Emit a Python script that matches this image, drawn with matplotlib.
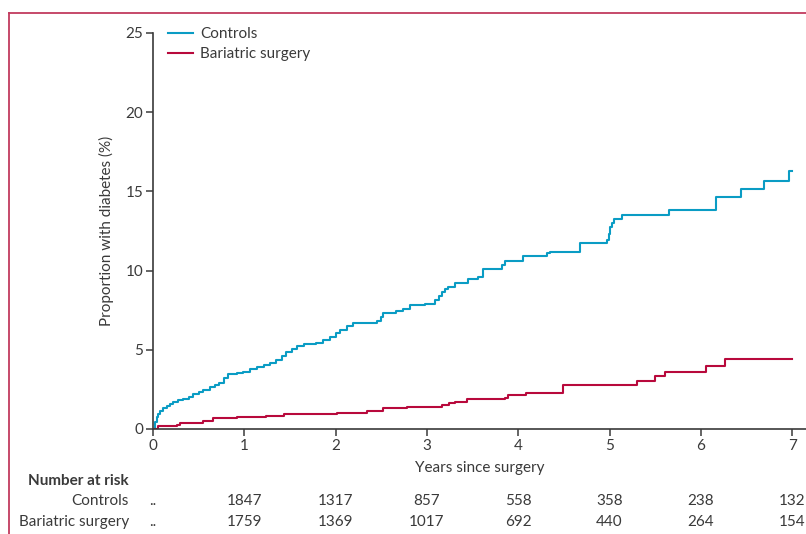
import matplotlib
matplotlib.use("Agg")
from matplotlib import pyplot as plt
from matplotlib.lines import Line2D

plt.rcParams['font.family'] = ['Lato', 'DejaVu Sans']

# cumulative incidence (years, %)
ctrl_t = [0, 0.02, 0.04, 0.06, 0.08, 0.11, 0.15, 0.19, 0.22, 0.27, 0.33, 0.39, 0.44,
          0.50, 0.55, 0.62, 0.68, 0.72, 0.78, 0.82, 0.92, 0.99, 1.06, 1.14, 1.22,
          1.28, 1.35, 1.41, 1.46, 1.52, 1.58, 1.65, 1.79, 1.86, 1.94, 2.00, 2.05,
          2.12, 2.19, 2.45, 2.50, 2.52, 2.66, 2.74, 2.81, 2.98, 3.09, 3.13, 3.16,
          3.20, 3.23, 3.31, 3.45, 3.56, 3.61, 3.82, 3.86, 4.05, 4.31, 4.35, 4.68,
          4.97, 4.99, 5.01, 5.03, 5.05, 5.14, 5.65, 6.17, 6.44, 6.69, 6.97, 7.0]
ctrl_p = [0, 0.45, 0.75, 0.95, 1.12, 1.3, 1.48, 1.6, 1.7, 1.8, 1.92, 2.05, 2.18,
          2.32, 2.45, 2.62, 2.78, 2.92, 3.2, 3.45, 3.55, 3.62, 3.78, 3.92, 4.02,
          4.14, 4.35, 4.6, 4.85, 5.05, 5.25, 5.36, 5.45, 5.62, 5.82, 6.05, 6.28,
          6.5, 6.68, 6.84, 7.1, 7.34, 7.45, 7.55, 7.82, 7.9, 8.14, 8.4, 8.68,
          8.85, 8.98, 9.24, 9.44, 9.6, 10.12, 10.38, 10.6, 10.92, 11.09, 11.2, 11.72,
          11.93, 12.3, 12.75, 13.0, 13.26, 13.5, 13.83, 14.67, 15.13, 15.68, 16.29, 16.29]

bari_t = [0, 0.06, 0.26, 0.30, 0.55, 0.66, 0.92, 1.24, 1.43, 2.01, 2.34, 2.52,
          2.78, 3.16, 3.24, 3.31, 3.44, 3.86, 3.89, 4.09, 4.49, 5.30, 5.50, 5.61,
          6.06, 6.26, 7.0]
bari_p = [0, 0.19, 0.25, 0.4, 0.5, 0.67, 0.78, 0.84, 0.93, 1.03, 1.16, 1.35,
          1.41, 1.52, 1.62, 1.72, 1.87, 1.98, 2.12, 2.25, 2.78, 3.03, 3.35, 3.62,
          4.0, 4.4, 4.4]

risk_years = [0, 1, 2, 3, 4, 5, 6, 7]
risk_ctrl = ['..', '1847', '1317', '857', '558', '358', '238', '132']
risk_bari = ['..', '1759', '1369', '1017', '692', '440', '264', '154']

blue = '#0a9cc4'
red = '#b8093c'
grey = '#3a3a3a'

fig = plt.figure(figsize=(8.06, 5.34), dpi=100)
ax = fig.add_axes([153/806, 105/534, 653/806, 396/534])

ax.step(ctrl_t, ctrl_p, where='post', color=blue, lw=1.5, label='Controls')
ax.step(bari_t, bari_p, where='post', color=red, lw=1.5, label='Bariatric surgery')

ax.set_xlim(0, 653/91.3)
ax.set_ylim(0, 25)
ax.set_xticks(range(8))
ax.set_yticks([0, 5, 10, 15, 20, 25])
for s in ['top', 'right']:
    ax.spines[s].set_visible(False)
for s in ['left', 'bottom']:
    ax.spines[s].set_linewidth(1.2)
    ax.spines[s].set_color(grey)
ax.spines['left'].set_bounds(0, 25)
ax.tick_params(direction='out', length=5, width=1.1, color=grey,
               labelsize=11, labelcolor=grey, pad=2)
ax.set_xlabel('Years since surgery', fontsize=11, color=grey, labelpad=6)
ax.set_ylabel('Proportion with diabetes (%)', fontsize=11, color=grey, labelpad=8)

leg = ax.legend(loc='upper left', bbox_to_anchor=(0.014, 1.03), frameon=False,
                fontsize=11, handlelength=1.65, handletextpad=0.45,
                labelspacing=0.4, borderaxespad=0)
for t in leg.get_texts():
    t.set_color(grey)

# number at risk table, x in data units, y in figure pixels
trans = matplotlib.transforms.blended_transform_factory(ax.transData, fig.transFigure)
fig.text(129/806, 1 - 481/534, 'Number at risk', fontsize=11, fontweight='bold',
         color=grey, ha='right', va='center')
fig.text(129/806, 1 - 501/534, 'Controls', fontsize=11, color=grey, ha='right', va='center')
fig.text(129/806, 1 - 522/534, 'Bariatric surgery', fontsize=11, color=grey,
         ha='right', va='center')
for yr, c, b in zip(risk_years, risk_ctrl, risk_bari):
    ax.text(yr, 1 - 501/534, c, transform=trans, fontsize=11, color=grey,
            ha='center', va='center', clip_on=False)
    ax.text(yr, 1 - 522/534, b, transform=trans, fontsize=11, color=grey,
            ha='center', va='center', clip_on=False)

# frame line on top and left
frame = '#c23a5e'
fig.add_artist(Line2D([9/806, 1.0], [1 - 13/534, 1 - 13/534], transform=fig.transFigure,
                      color=frame, lw=1.3))
fig.add_artist(Line2D([9/806, 9/806], [0, 1 - 13/534], transform=fig.transFigure,
                      color=frame, lw=1.3))

fig.savefig('out.png', dpi=100)
